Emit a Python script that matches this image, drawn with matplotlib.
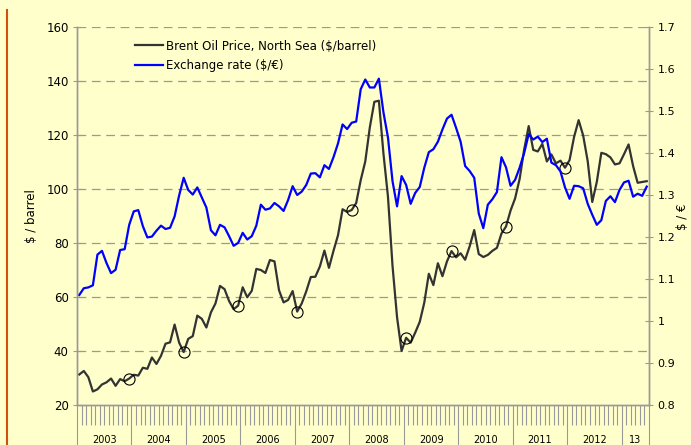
import numpy as np
import matplotlib
matplotlib.use('Agg')
import matplotlib.pyplot as plt
from matplotlib.lines import Line2D
from matplotlib.ticker import FuncFormatter

# Brent oil price, monthly ($/barrel), Jan 2003 - Jun 2013
brent = [31.3, 32.6, 30.3, 25.0, 25.8, 27.6, 28.4, 29.8, 27.1, 29.6, 28.8, 29.8,
         31.2, 30.9, 33.8, 33.4, 37.6, 35.2, 38.2, 42.7, 43.2, 49.8, 43.1, 39.6,
         44.5, 45.5, 53.1, 51.9, 48.7, 54.3, 57.6, 64.1, 62.9, 58.5, 55.5, 56.8,
         63.6, 59.9, 62.3, 70.4, 70.0, 68.9, 73.7, 73.2, 62.5, 58.0, 58.9, 62.2,
         54.6, 57.6, 62.1, 67.4, 67.5, 71.3, 77.2, 70.8, 77.1, 82.9, 92.5, 91.5,
         92.2, 94.8, 103.3, 110.2, 122.8, 132.3, 132.7, 113.2, 97.2, 71.6, 52.5, 40.0,
         44.9, 43.1, 46.8, 50.8, 57.9, 68.6, 64.4, 72.5, 67.7, 73.2, 77.0, 74.7,
         76.2, 73.8, 78.8, 84.8, 75.9, 74.8, 75.6, 77.1, 78.2, 83.5, 86.1, 92.0,
         96.5, 103.7, 114.6, 123.3, 114.5, 113.9, 116.7, 110.2, 112.8, 109.5, 110.5, 107.9,
         110.7, 119.3, 125.5, 119.8, 110.3, 95.2, 102.6, 113.4, 112.9, 111.7, 109.1, 109.5,
         112.9, 116.5, 108.5, 102.3, 102.6, 102.9]

# Exchange rate, monthly ($/€)
eurusd = [1.062, 1.078, 1.080, 1.085, 1.158, 1.167, 1.138, 1.114, 1.122, 1.169, 1.171, 1.229,
          1.261, 1.264, 1.226, 1.199, 1.201, 1.215, 1.227, 1.219, 1.222, 1.249, 1.299, 1.341,
          1.312, 1.301, 1.318, 1.294, 1.270, 1.216, 1.204, 1.229, 1.223, 1.202, 1.179, 1.186,
          1.210, 1.194, 1.202, 1.227, 1.277, 1.265, 1.268, 1.281, 1.273, 1.262, 1.288, 1.321,
          1.300, 1.308, 1.324, 1.351, 1.352, 1.342, 1.371, 1.362, 1.390, 1.423, 1.468, 1.457,
          1.472, 1.475, 1.552, 1.575, 1.556, 1.556, 1.577, 1.497, 1.437, 1.333, 1.273, 1.345,
          1.324, 1.279, 1.305, 1.319, 1.365, 1.402, 1.409, 1.427, 1.456, 1.482, 1.491, 1.460,
          1.427, 1.369, 1.357, 1.341, 1.256, 1.221, 1.277, 1.290, 1.307, 1.390, 1.366, 1.322,
          1.336, 1.365, 1.400, 1.445, 1.432, 1.439, 1.426, 1.434, 1.377, 1.371, 1.356, 1.318,
          1.291, 1.322, 1.321, 1.316, 1.279, 1.253, 1.229, 1.240, 1.286, 1.297, 1.283, 1.312,
          1.330, 1.334, 1.296, 1.303, 1.298, 1.320]

# months marked with a circle on the Brent line
marked = [11, 23, 35, 48, 60, 72, 82, 94, 107]

year_labels = ['2003', '2004', '2005', '2006', '2007', '2008',
               '2009', '2010', '2011', '2012', '13']

bg = '#FFFFCC'
grey = '#999999'

n = len(brent)
x = np.arange(n) + 0.5

fig = plt.figure(figsize=(6.91, 4.45), dpi=100, facecolor=bg)
ax = fig.add_axes([77/691, 1 - 405/445, 572/691, 378/445])
ax.set_facecolor(bg)
ax2 = ax.twinx()

l1, = ax.plot(x, brent, color='#333333', lw=1.6, zorder=3,
              label='Brent Oil Price, North Sea ($/barrel)')
ax.plot(x[marked], np.array(brent)[marked], 'o', mfc='none', mec='black',
        ms=8, mew=0.8, zorder=4)
l2, = ax2.plot(x, eurusd, color='#0000FF', lw=1.6,
               label='Exchange rate ($/€)')

ax.set_xlim(0, n)
ax.set_ylim(20, 160)
ax2.set_ylim(0.8, 1.7)
ax.set_yticks(np.arange(20, 161, 20))
ax2.set_yticks(np.arange(0.8, 1.71, 0.1))
ax2.yaxis.set_major_formatter(FuncFormatter(lambda v, p: '%g' % round(v, 1)))

# dashed grid on left axis
for v in range(40, 161, 20):
    ax.axhline(v, color=grey, lw=0.9, dashes=(7, 4.5), zorder=1)

for a in (ax, ax2):
    a.spines['top'].set_visible(False)
    for s in ('left', 'right', 'bottom'):
        a.spines[s].set_color(grey)
        a.spines[s].set_linewidth(1)

ax.tick_params(axis='y', direction='inout', length=6, width=0.8, color=grey,
               labelsize=8.5, pad=3)
ax2.tick_params(axis='y', direction='inout', length=6, width=0.8, color=grey,
                labelsize=8, pad=3)

# month ticks and year separators
years = list(range(0, n, 12)) + [n]
ax.set_xticks(years)
ax.set_xticklabels([])
ax.set_xticks(np.arange(1, n), minor=True)
ax.tick_params(axis='x', which='major', direction='out', length=30, width=0.8, color=grey)
ax.tick_params(axis='x', which='minor', direction='out', length=14.4, width=0.8, color=grey)
for i, lab in enumerate(year_labels):
    xc = (years[i] + years[i + 1]) / 2
    ax.text(xc, -0.093, lab, transform=ax.get_xaxis_transform(),
            ha='center', va='center', fontsize=7, clip_on=False)

ax.set_ylabel('$ / barrel', fontsize=8.5, labelpad=6)
fig.text(682/691, 1 - 217/445, '$ / €', fontsize=8.5, rotation=90,
         ha='center', va='center')

leg = ax2.legend(handles=[l1, l2], loc='upper left', bbox_to_anchor=(0.082, 0.995),
                 frameon=False, fontsize=8.5, handlelength=2.45, handletextpad=0.25,
                 labelspacing=0.55)

fig.add_artist(Line2D([7/691, 7/691], [0, 1 - 10/445], color='#D2500A', lw=1.5))

fig.savefig('out.png', dpi=100, facecolor=bg)
